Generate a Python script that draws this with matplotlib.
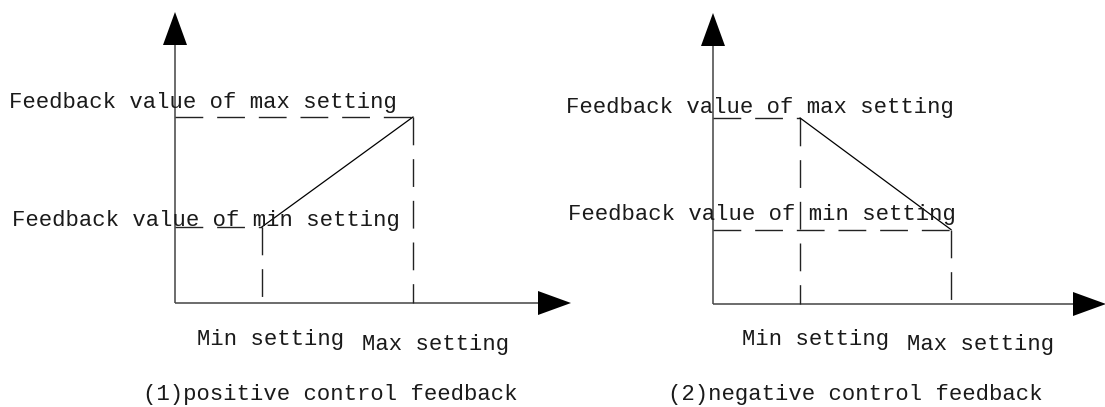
import matplotlib
matplotlib.use('Agg')
import matplotlib.pyplot as plt
from matplotlib.patches import Polygon

W, H, DPI = 1105, 407, 100

# ---- data (normalized: setting range and feedback range) ----
setting_points = [0.366, 1.0]           # Min setting, Max setting
fb_at_setting = [[0.41, 1.0],           # (1) positive: feedback at min / max setting
                 [1.0, 0.40]]           # (2) negative
titles = ['(1)positive control feedback', '(2)negative control feedback']
x_labels = ['Min setting', 'Max setting']
y_labels = ['Feedback value of max setting', 'Feedback value of min setting']

# ---- layout (pixels) ----
origins = [(175, 303), (713, 304)]
SX, SY = 238.0, 186.0
x_tips = [571, 1106]
y_tips = [12, 13]
ARW_LEN, ARW_HALF = 33, 12

ylab_pos = [[(9, 108), (12, 226)], [(566, 113), (568, 220)]]
xlab_pos = [[(197, 345), (362, 350)], [(742, 345), (907, 350)]]
title_pos = [(143, 400), (668, 400)]

FONT = dict(family='Liberation Mono', fontsize=16, color='#1a1a1a')

fig = plt.figure(figsize=(W / DPI, H / DPI), dpi=DPI)
fig.patch.set_facecolor('white')

def px(x, y):
    return x / W, 1 - y / H

for i in range(2):
    ox, oy = origins[i]
    ax = fig.add_axes([0, 0, 1, 1])
    ax.set_xlim(-ox / SX, (W - ox) / SX)
    ax.set_ylim(-(H - oy) / SY, oy / SY)
    ax.axis('off')
    ax.patch.set_alpha(0)

    xt = (x_tips[i] - ox) / SX
    yt = (oy - y_tips[i]) / SY
    xb = xt - ARW_LEN / SX
    yb = yt - ARW_LEN / SY

    # axes lines
    ax.plot([0, xb], [0, 0], color='#444444', lw=1.1, solid_capstyle='butt', clip_on=False)
    ax.plot([0, 0], [0, yb], color='#444444', lw=1.1, solid_capstyle='butt', clip_on=False)
    # arrow heads
    ax.add_patch(Polygon([[xb, -ARW_HALF / SY], [xt, 0], [xb, ARW_HALF / SY]],
                         closed=True, color='black', lw=0, clip_on=False))
    ax.add_patch(Polygon([[-ARW_HALF / SX, yb], [0, yt], [ARW_HALF / SX, yb]],
                         closed=True, color='black', lw=0, clip_on=False))

    # dashed guide lines
    fbs = fb_at_setting[i]
    for s, f in zip(setting_points, fbs):
        ax.plot([0, s], [f, f], color='#222222', lw=1.0, linestyle=(0, (20, 10)))
        ax.plot([s, s], [f, 0], color='#222222', lw=1.0, linestyle=(0, (20, 10)))
    # characteristic line
    ax.plot(setting_points, fbs, color='black', lw=0.9)

    # texts
    for lab, (x, y) in zip(y_labels, ylab_pos[i]):
        fig.text(*px(x, y), lab, ha='left', va='baseline', **FONT)
    for lab, (x, y) in zip(x_labels, xlab_pos[i]):
        fig.text(*px(x, y), lab, ha='left', va='baseline', **FONT)
    fig.text(*px(*title_pos[i]), titles[i], ha='left', va='baseline', **FONT)

fig.savefig('out.png', dpi=DPI, facecolor='white')
